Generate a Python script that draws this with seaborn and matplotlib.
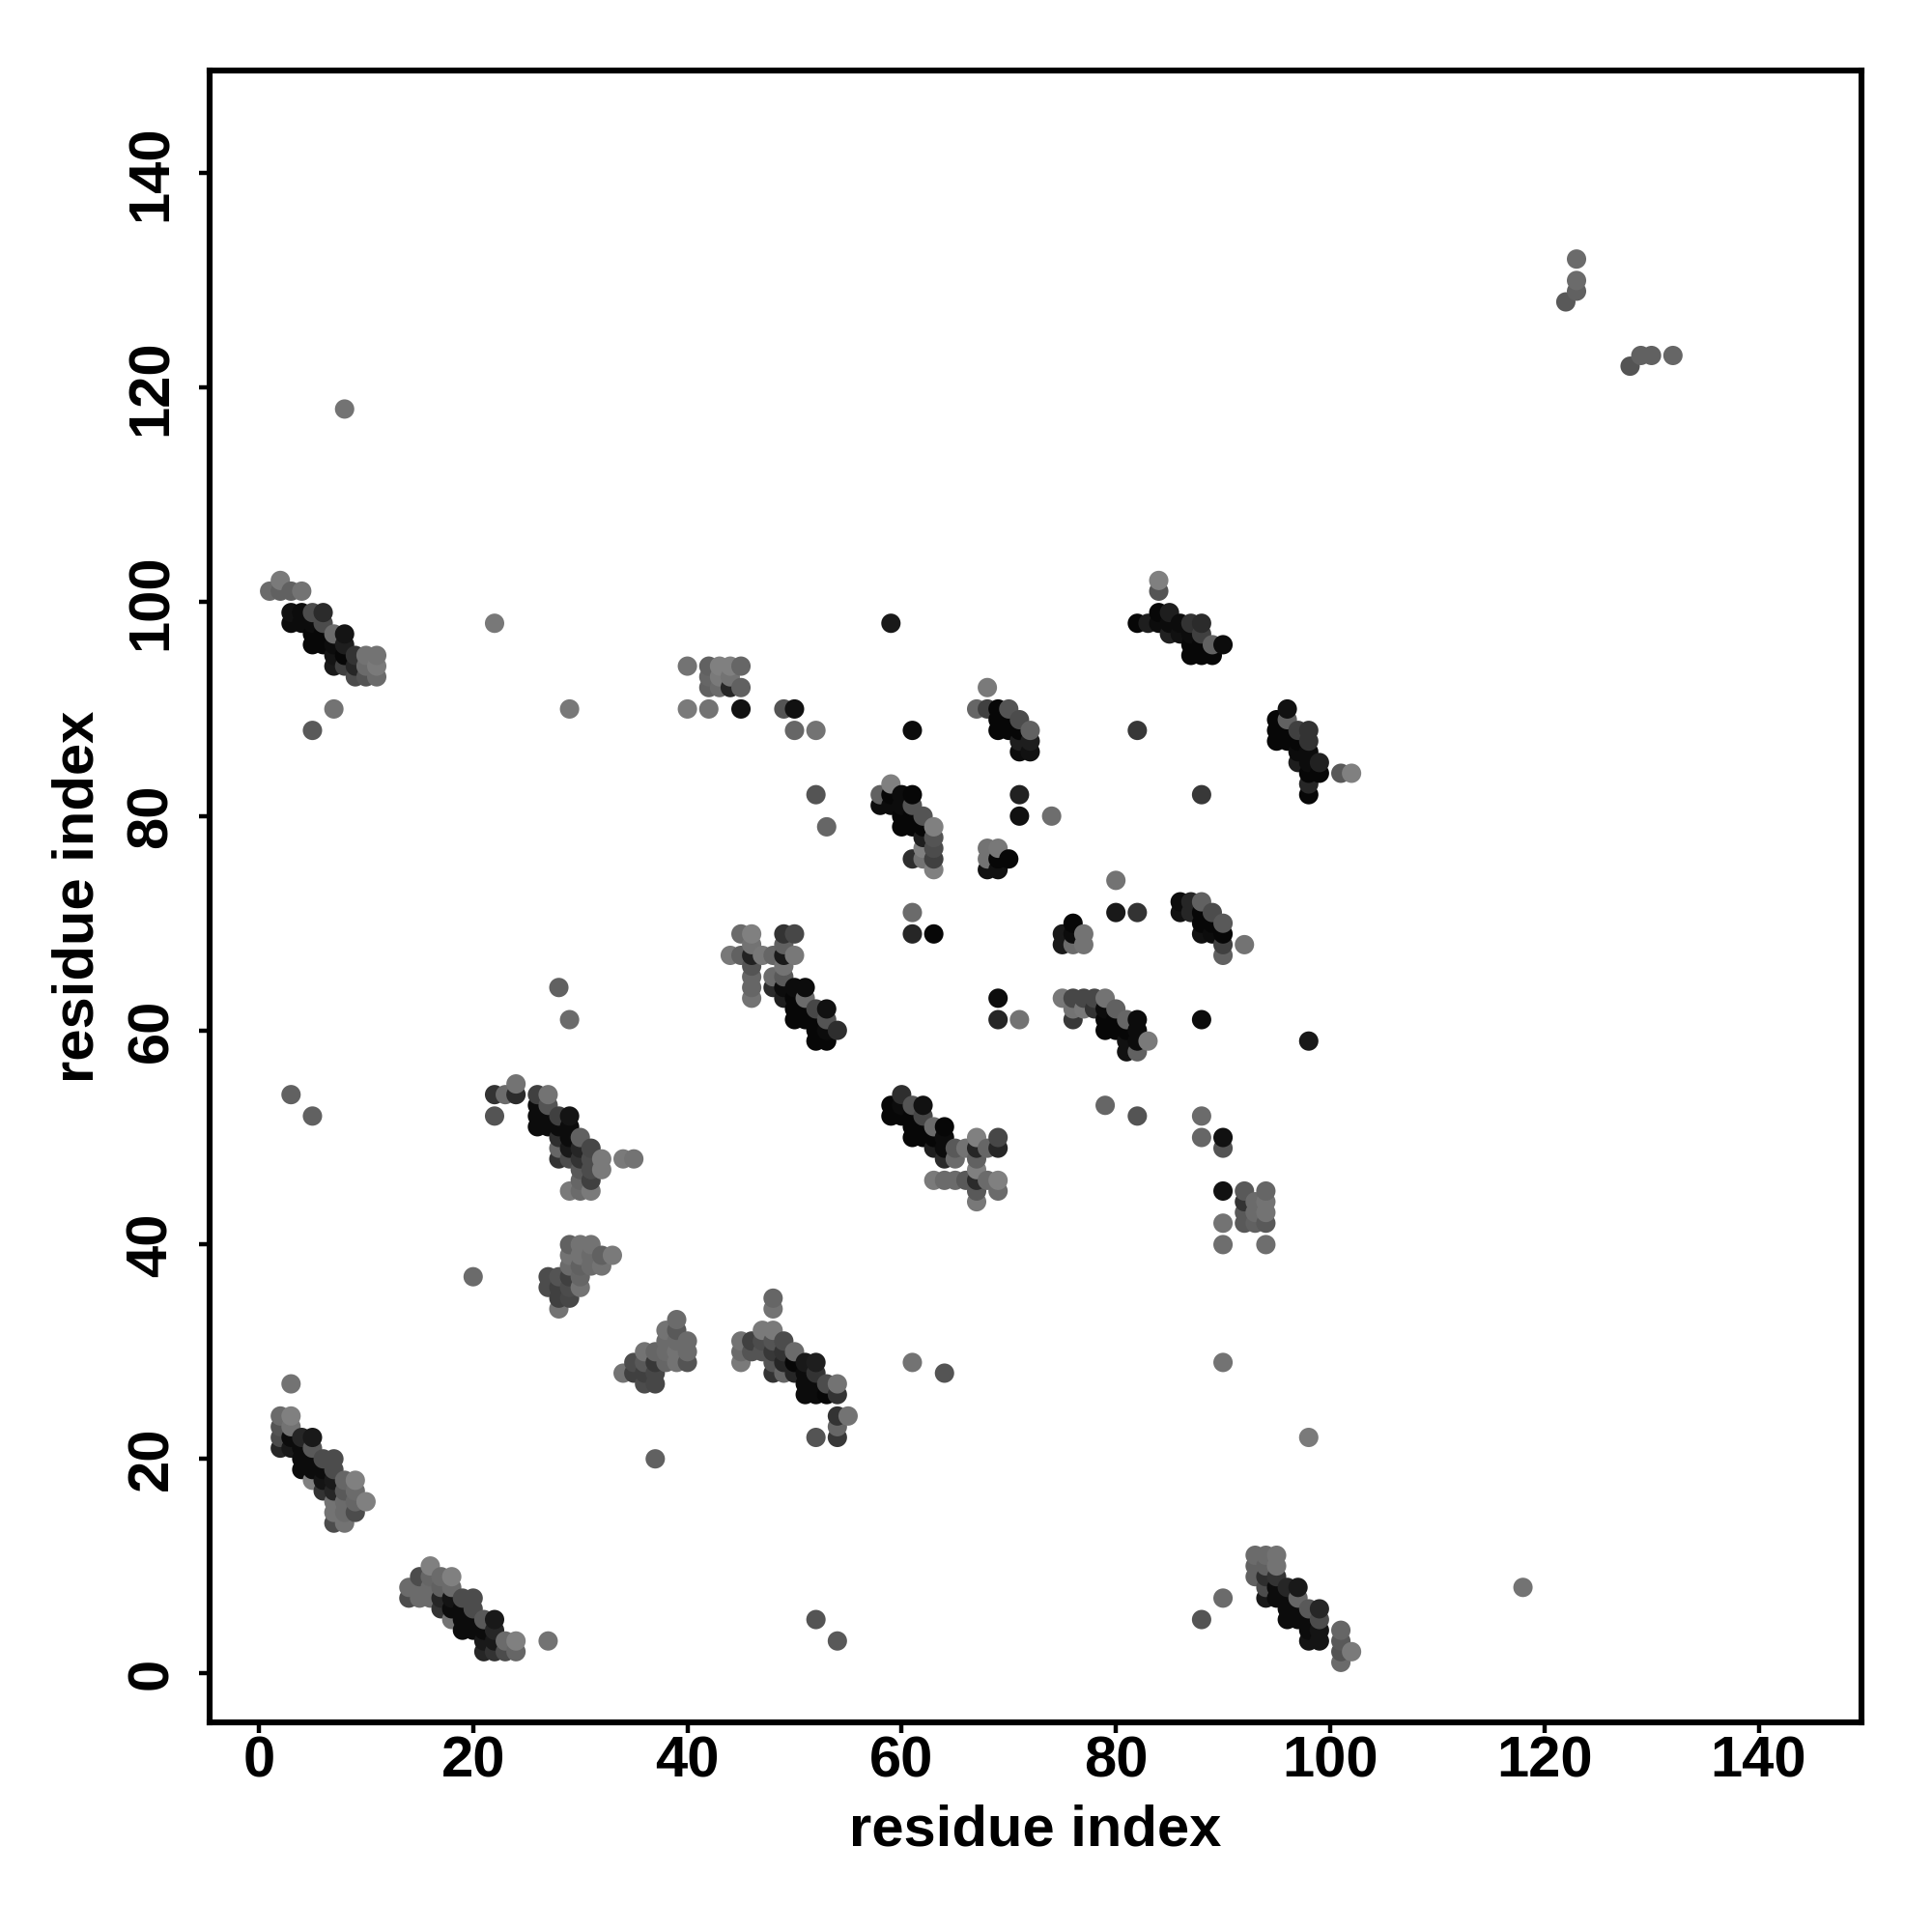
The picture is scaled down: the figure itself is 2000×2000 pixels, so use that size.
import seaborn as sns
import matplotlib.pyplot as plt
import pandas as pd

# contacts as (residue x, residue y, grey level), grey 0 = black, 1 = white
helix_a = [(2,24,.42),(3,24,.5),(2,23,.33),(3,23,.45),(2,22,.3),(3,22,.05),(4,22,.15),(5,22,.1),
           (2,21,.15),(3,21,.1),(4,21,.05),(5,21,.35),(4,20,.05),(5,20,.05),(6,20,.3),(7,20,.3),
           (4,19,.05),(5,19,.05),(6,19,.05),(7,19,.3),(5,18,.5),(6,18,.08),(7,18,.1),(8,18,.4),(9,18,.5),
           (6,17,.2),(7,17,.15),(8,17,.35),(9,17,.42),(7,16,.45),(8,16,.42),(9,16,.4),(10,16,.5),
           (7,15,.45),(8,15,.42),(9,15,.3),(7,14,.3),(8,14,.45)]
helix_b = [(16,10,.5),(15,9,.3),(16,9,.4),(17,9,.42),(18,9,.5),(14,8,.42),(15,8,.42),(16,8,.42),(17,8,.38),(18,8,.42),
           (14,7,.3),(15,7,.42),(16,7,.42),(17,7,.15),(18,7,.08),(19,7,.3),(20,7,.3),(17,6,.2),(18,6,.05),(19,6,.05),(20,6,.3),
           (18,5,.45),(19,5,.05),(20,5,.05),(21,5,.35),(22,5,.1),(19,4,.05),(20,4,.05),(21,4,.05),(22,4,.15),
           (21,3,.1),(22,3,.1),(23,3,.42),(24,3,.5),(21,2,.15),(22,2,.2),(23,2,.3),(24,2,.4)]
strand_c = [(22,54,.2),(23,54,.42),(24,55,.45),(24,54,.17),(22,52,.33),(26,54,.25),(27,54,.45),(26,53,.05),(27,53,.33),
            (26,52,.05),(27,52,.05),(28,52,.25),(29,52,.08),(26,51,.05),(27,51,.05),(28,51,.05),(29,51,.05),
            (28,50,.18),(29,50,.05),(30,50,.38),(28,49,.4),(29,49,.1),(30,49,.15),(31,49,.28),
            (28,48,.2),(29,48,.3),(30,48,.2),(31,48,.3),(32,48,.48),(34,48,.48),(35,48,.45),
            (30,47,.35),(31,47,.3),(32,47,.48),(30,46,.4),(31,46,.25),(29,45,.48),(30,45,.42),(31,45,.48)]
patch_d = [(29,40,.38),(30,40,.45),(31,40,.45),(29,39,.45),(30,39,.45),(31,39,.42),(32,39,.38),(33,39,.48),
           (29,38,.42),(30,38,.38),(31,38,.42),(32,38,.45),(27,37,.3),(28,37,.33),(29,37,.25),(30,37,.4),
           (27,36,.3),(28,36,.25),(29,36,.3),(30,36,.45),(28,35,.25),(29,35,.28),(28,34,.45)]
patch_e = [(39,33,.42),(38,32,.45),(39,32,.35),(38,31,.42),(39,31,.42),(40,31,.42),
           (36,30,.45),(37,30,.4),(38,30,.42),(39,30,.45),(40,30,.42),
           (35,29,.3),(36,29,.35),(37,29,.22),(38,29,.4),(39,29,.45),(40,29,.33),
           (34,28,.45),(35,28,.25),(36,28,.25),(37,28,.28),(36,27,.3),(37,27,.28)]
strand_f = [(48,35,.4),(48,34,.45),(47,32,.48),(48,32,.48),(45,31,.45),(46,31,.25),(47,31,.3),(48,31,.33),(49,31,.3),
            (45,30,.42),(46,30,.33),(47,30,.33),(48,30,.22),(49,30,.2),(50,30,.42),
            (45,29,.48),(48,29,.33),(49,29,.15),(50,29,.03),(51,29,.1),(52,29,.12),
            (48,28,.2),(49,28,.4),(50,28,.15),(51,28,.05),(52,28,.2),(51,27,.05),(52,27,.05),(53,27,.3),(54,27,.45),
            (51,26,.05),(52,26,.05),(53,26,.03),(54,26,.2),(54,24,.2),(55,24,.45),(54,23,.4),(52,22,.33),(54,22,.22)]
helix_g = [(93,11,.42),(94,11,.42),(95,11,.45),(93,10,.38),(94,10,.38),(95,10,.45),(93,9,.38),(94,9,.18),(95,9,.2),
           (94,8,.3),(95,8,.05),(96,8,.15),(97,8,.1),(94,7,.1),(95,7,.05),(96,7,.05),(97,7,.4),
           (96,6,.05),(97,6,.05),(98,6,.35),(99,6,.15),(96,5,.05),(97,5,.05),(98,5,.05),(99,5,.3),
           (98,4,.05),(99,4,.08),(98,3,.08),(99,3,.08),(101,4,.4),(101,3,.35),(101,2,.33),(102,2,.48),(101,1,.42)]
helix_h = [(2,102,.48),(1,101,.42),(2,101,.38),(3,101,.38),(4,101,.45),(3,99,.07),(4,99,.05),(5,99,.3),(6,99,.17),
           (3,98,.05),(4,98,.05),(5,98,.05),(6,98,.3),(5,97,.03),(6,97,.03),(7,97,.42),(8,97,.08),
           (5,96,.03),(6,96,.03),(7,96,.05),(8,96,.12),(7,95,.08),(8,95,.03),(9,95,.2),(10,95,.45),(11,95,.45),
           (7,94,.1),(8,94,.25),(9,94,.15),(10,94,.42),(11,94,.48),(9,93,.3),(10,93,.33),(11,93,.42)]
patch_i = [(40,94,.45),(42,94,.38),(43,94,.5),(44,94,.5),(45,94,.4),(42,93,.4),(43,93,.48),(44,93,.45),
           (42,92,.38),(43,92,.42),(44,92,.15),(45,92,.38),(40,90,.48),(42,90,.45),(45,90,.07),(49,90,.33),(50,90,.07),
           (50,88,.4),(52,88,.45)]
strand_j = [(59,83,.5),(58,82,.38),(59,82,.03),(60,82,.05),(61,82,.03),(58,81,.05),(59,81,.05),(60,81,.05),(61,81,.33),
            (60,80,.03),(61,80,.03),(62,80,.33),(60,79,.03),(61,79,.03),(62,79,.03),(63,79,.5),
            (62,78,.12),(63,78,.33),(62,77,.5),(63,77,.3),(61,76,.18),(62,76,.45),(63,76,.25),(63,75,.5)]
strand_k = [(68,92,.48),(67,90,.4),(68,90,.25),(69,90,.03),(70,90,.33),(69,89,.03),(70,89,.03),(71,89,.3),
            (69,88,.03),(70,88,.03),(71,88,.03),(72,88,.38),(71,87,.12),(72,87,.12),(71,86,.05),(72,86,.07)]
patch_l = [(68,77,.45),(69,77,.47),(68,76,.45),(69,76,.03),(70,76,.03),(68,75,.07),(69,75,.07)]
patch_m = [(45,69,.42),(46,69,.5),(49,69,.2),(50,69,.28),(46,68,.45),(49,68,.38),
           (44,67,.47),(45,67,.38),(46,67,.13),(47,67,.47),(48,67,.4),(49,67,.1),(50,67,.47),
           (46,66,.33),(49,66,.45),(46,65,.4),(48,65,.42),(49,65,.35),(46,64,.4),(46,63,.45),
           (48,64,.17),(49,64,.05),(50,64,.05),(51,64,.05),(49,63,.12),(50,63,.03),(51,63,.42),(53,62,.07),(52,62,.28),
           (50,62,.03),(51,62,.03),(50,61,.03),(51,61,.03),(52,61,.03),(53,61,.33),
           (52,60,.03),(53,60,.05),(54,60,.18),(52,59,.03),(53,59,.03)]
strand_n = [(60,54,.18),(59,53,.03),(60,53,.05),(61,53,.33),(62,53,.07),(59,52,.03),(60,52,.03),(61,52,.03),(62,52,.28),
            (61,51,.03),(62,51,.03),(63,51,.42),(64,51,.03),(61,50,.03),(62,50,.03),(63,50,.03),(64,50,.05),(67,50,.5),(69,50,.28),
            (63,49,.12),(64,49,.05),(65,49,.35),(66,49,.45),(67,49,.15),(68,49,.4),(69,49,.15),
            (64,48,.17),(65,48,.42),(67,48,.38),(67,47,.5),(63,46,.48),(64,46,.42),(65,46,.42),(66,46,.35),(67,46,.17),(68,46,.42),(69,46,.5),
            (67,45,.35),(69,45,.42),(67,44,.47)]
patch_o = [(92,45,.35),(94,45,.4),(92,44,.2),(93,44,.42),(94,44,.45),(92,43,.35),(93,43,.42),(94,43,.45),
           (92,42,.35),(93,42,.38),(94,42,.35),(94,40,.43),(90,40,.43),(90,42,.45),(90,45,.07)]
patch_p = [(76,70,.03),(75,69,.1),(76,69,.05),(77,69,.45),(75,68,.1),(76,68,.42),(77,68,.45)]
strand_q = [(86,72,.05),(87,72,.15),(88,72,.38),(86,71,.07),(87,71,.15),(88,71,.03),(89,71,.3),(88,70,.03),(89,70,.03),(90,70,.35),
            (88,69,.07),(89,69,.05),(90,69,.03),(90,68,.25),(90,67,.38),(92,68,.45)]
strand_r = [(75,63,.47),(76,63,.28),(77,63,.28),(78,63,.28),(79,63,.45),(76,62,.45),(77,62,.47),(78,62,.2),(79,62,.05),(80,62,.38),
            (76,61,.22),(79,61,.03),(80,61,.03),(81,61,.4),(82,61,.05),(79,60,.03),(80,60,.03),(81,60,.03),(82,60,.05),
            (81,59,.07),(82,59,.05),(83,59,.48),(81,58,.07),(82,58,.38)]
strand_s = [(84,102,.5),(84,101,.33),(84,99,.03),(85,99,.12),(82,98,.03),(83,98,.12),(84,98,.05),(85,98,.05),(86,98,.05),(87,98,.2),(88,98,.17),
            (85,97,.13),(86,97,.07),(87,97,.05),(88,97,.25),(87,96,.03),(88,96,.03),(89,96,.38),(90,96,.05),(87,95,.03),(88,95,.03),(89,95,.03)]
strand_t = [(96,90,.07),(95,89,.03),(96,89,.38),(95,88,.03),(96,88,.03),(97,88,.25),(98,88,.2),(95,87,.03),(96,87,.03),(97,87,.03),(98,87,.2),
            (97,86,.05),(98,86,.05),(97,85,.12),(98,85,.05),(99,85,.13),(98,84,.03),(99,84,.03),(98,83,.15),(98,82,.03),(101,84,.35),(102,84,.5)]
top_right = [(123,132,.42),(123,130,.42),(123,129,.38),(122,128,.35),(128,122,.33),(129,123,.38),(130,123,.38),(132,123,.4)]
isolated = [(3,27,.45),(27,3,.45),(20,37,.42),(37,20,.38),(61,29,.45),(90,29,.45),(64,28,.33),(98,22,.48),(52,5,.33),(54,3,.35),
            (88,5,.33),(90,7,.42),(118,8,.45),(8,118,.45),(22,98,.47),(7,90,.45),(5,88,.35),(29,90,.47),(59,98,.1),(61,88,.05),
            (52,82,.33),(53,79,.4),(71,82,.13),(71,80,.07),(74,80,.43),(61,71,.42),(61,69,.15),(63,69,.03),(69,63,.05),(69,61,.15),(71,61,.45),
            (79,53,.4),(82,52,.33),(88,52,.42),(88,50,.4),(90,50,.07),(90,49,.33),(80,74,.45),(80,71,.1),(82,71,.2),(88,61,.05),(98,59,.1),
            (82,88,.22),(88,82,.22),(28,64,.38),(29,61,.42),(3,54,.38),(5,52,.38)]

x_ticks = [0, 20, 40, 60, 80, 100, 120, 140]
y_ticks = [0, 20, 40, 60, 80, 100, 120, 140]
axis_label = 'residue index'

clusters = [helix_a, helix_b, strand_c, patch_d, patch_e, strand_f, helix_g, helix_h, patch_i, strand_j,
            strand_k, patch_l, patch_m, strand_n, patch_o, patch_p, strand_q, strand_r, strand_s, strand_t,
            top_right, isolated]
df = pd.DataFrame([p for c in clusters for p in c], columns=['x', 'y', 'grey'])
# later residues are painted over earlier ones
df = df.sort_values(['x', 'y'])

sns.set_style('white')
plt.rcParams['font.family'] = ['Liberation Sans', 'DejaVu Sans']

fig = plt.figure(figsize=(10, 10), dpi=200)
ax = fig.add_axes([217/2000, 1 - 1783/2000, 1710/2000, 1710/2000])
sns.scatterplot(data=df, x='x', y='y', hue='grey', palette='gray', hue_norm=(0, 1),
                s=52, linewidth=0, legend=False, ax=ax)

ax.set_xlim(-4.6, 149.6)
ax.set_ylim(-4.6, 149.6)
ax.set_xticks(x_ticks)
ax.set_yticks(y_ticks)
ax.tick_params(axis='x', length=4, width=1.6, color='black', labelsize=21.5, labelcolor='black', pad=1, bottom=True)
ax.tick_params(axis='y', length=4, width=1.6, color='black', labelsize=21.5, labelcolor='black', pad=7.5, left=True)
for lab in ax.get_xticklabels() + ax.get_yticklabels():
    lab.set_fontweight('bold')
for lab in ax.get_yticklabels():
    lab.set_rotation(90)
    lab.set_va('center')
for s in ax.spines.values():
    s.set_linewidth(2.2)
    s.set_color('black')
ax.set_xlabel(axis_label, fontsize=21.5, fontweight='bold', color='black', va='center')
ax.set_ylabel(axis_label, fontsize=21.5, fontweight='bold', color='black', va='center')
ax.xaxis.set_label_coords(0.5, -0.0653)
ax.yaxis.set_label_coords(-0.0795, 0.5)

fig.savefig('out.png', dpi=200, facecolor='white')
